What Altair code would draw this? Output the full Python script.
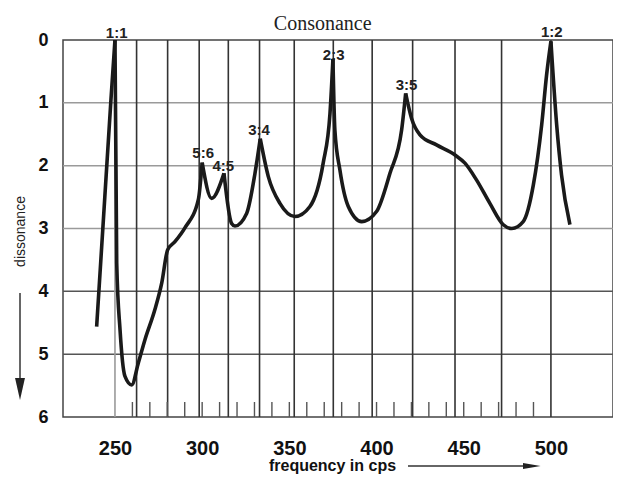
import altair as alt
import pandas as pd

# ---- data ----
freq = [239.5, 244.2, 247.7, 250.0,
        251.0, 252.9, 255.7, 259.6, 263.4, 267.2, 272.9, 276.8, 280.2, 284.4, 290.1, 297.8, 300.0,
        305.4, 312.5,
        316.9, 318.8, 325.5, 330.3, 333.3,
        337.9, 344.6, 353.2, 361.8, 369.4, 373.3, 375.0,
        376.1, 379.0, 383.8, 391.5, 400.0, 407.7, 414.4, 416.7,
        420.1, 424.9, 434.4, 445.0, 450.7, 457.4, 465.0, 472.7, 477.6, 484.1, 489.9, 494.7, 497.5, 500.0,
        503.3, 506.1, 510.9]
diss = [4.56, 2.49, 0.95, 0.0,
        3.55, 4.61, 5.35, 5.49, 5.14, 4.77, 4.29, 3.87, 3.34, 3.21, 2.99, 2.54, 1.95,
        2.52, 2.12,
        2.92, 2.96, 2.76, 2.12, 1.57,
        2.17, 2.60, 2.81, 2.65, 1.96, 1.17, 0.30,
        1.43, 2.07, 2.65, 2.89, 2.73, 2.12, 1.43, 0.85,
        1.25, 1.51, 1.67, 1.83, 1.96, 2.23, 2.60, 2.94, 3.00, 2.89, 2.31, 1.35, 0.56, 0.02,
        1.35, 2.15, 2.94]

peak_names = ["1:1", "5:6", "4:5", "3:4", "2:3", "3:5", "1:2"]
peak_label_freq = [251.0, 300.6, 312.1, 332.6, 375.4, 417.2, 500.5]
peak_label_diss = [-0.11, 1.80, 2.00, 1.43, 0.24, 0.72, -0.12]

semitone_freqs = [250.0, 262.4, 280.2, 298.3, 315.0, 332.9, 352.8, 375.2, 397.5, 420.7, 445.0, 471.7, 500.0]
small_tick_freqs = [260, 270, 280, 290, 300, 310, 320, 330, 340, 350, 360, 370, 380,
                    390, 400, 410, 420, 430, 440, 450, 460, 470, 480, 490]
x_tick_values = [250, 300, 350, 400, 450, 500]
y_tick_values = [0, 1, 2, 3, 4, 5, 6]
hgrid_values = [1, 2, 3, 4, 5]

# ---- split curve into segments at the peaks (local minima of dissonance) ----
rows = []
seg = 0
for i, (f, d) in enumerate(zip(freq, diss)):
    rows.append({"f": f, "d": d, "seg": seg})
    if 0 < i < len(freq) - 1 and d < diss[i - 1] and d < diss[i + 1]:
        seg += 1
        rows.append({"f": f, "d": d, "seg": seg})
curve_df = pd.DataFrame(rows)

W, H = 550, 377
FONT = "Liberation Sans"

xs = alt.Scale(domain=[220.2, 535.6], nice=False, zero=False)
ys = alt.Scale(domain=[0, 6], reverse=True, nice=False, zero=False)

x_axis = alt.Axis(values=x_tick_values, title="frequency in cps", ticks=False, domain=False, grid=False,
                  labelFont=FONT, labelFontSize=20, labelFontWeight="bold", labelColor="#111",
                  labelPadding=31, labelBaseline="middle", labelFlush=False, labelOverlap=False,
                  titleFont=FONT, titleFontSize=16, titleFontWeight="bold", titleColor="#111",
                  titleX=269, titleY=48, titleAlign="center", titleBaseline="middle")
y_axis = alt.Axis(values=y_tick_values, title="dissonance", ticks=False, domain=False, grid=False,
                  labelFont=FONT, labelFontSize=18, labelFontWeight="bold", labelColor="#111",
                  labelPadding=15, labelBaseline="middle", labelFlush=False, labelOverlap=False,
                  titleFont=FONT, titleFontSize=14, titleFontWeight="normal", titleColor="#222",
                  titleX=-43, titleY=191, titleAngle=-90, titleAlign="center", titleBaseline="middle")

dummy = pd.DataFrame({"a": [0]})

hgrid = alt.Chart(pd.DataFrame({"v": hgrid_values})).mark_rule(strokeWidth=1.5).encode(
    y=alt.Y("v:Q", scale=ys, axis=y_axis),
    x=alt.value(0), x2=alt.value(W),
    color=alt.condition(alt.datum.v >= 4, alt.value("#555555"), alt.value("#9a9a9a")),
)

vgrid = alt.Chart(pd.DataFrame({"f": semitone_freqs})).mark_rule(strokeWidth=1.6).encode(
    x=alt.X("f:Q", scale=xs, axis=x_axis),
    y=alt.value(0), y2=alt.value(H),
    color=alt.condition(alt.datum.f == 250, alt.value("#9a9a9a"), alt.value("#333333")),
)

small_ticks = alt.Chart(pd.DataFrame({"f": small_tick_freqs})).mark_rule(strokeWidth=1.4, color="#555555").encode(
    x=alt.X("f:Q", scale=xs, axis=x_axis),
    y=alt.value(H - 15), y2=alt.value(H),
)

curve = alt.Chart(curve_df).mark_line(interpolate="monotone", color="#1a1a1a", strokeWidth=3.6).encode(
    x=alt.X("f:Q", scale=xs, axis=x_axis),
    y=alt.Y("d:Q", scale=ys, axis=y_axis),
    detail="seg:N",
)

labels = alt.Chart(pd.DataFrame({"f": peak_label_freq, "d": peak_label_diss, "t": peak_names})).mark_text(
    font=FONT, fontSize=15, fontWeight="bold", color="#222222", baseline="middle", align="center"
).encode(
    x=alt.X("f:Q", scale=xs, axis=x_axis),
    y=alt.Y("d:Q", scale=ys, axis=y_axis),
    text="t:N",
)

y_arrow_line = alt.Chart(dummy).mark_rule(color="#333333", strokeWidth=1.5).encode(
    x=alt.value(-43), y=alt.value(253), y2=alt.value(342))
y_arrow_head = alt.Chart(dummy).mark_point(shape="M-0.45,-1L0.45,-1L0,1Z", filled=True, opacity=1,
                                          color="#222222", size=484).encode(
    x=alt.value(-43), y=alt.value(349))

x_arrow_line = alt.Chart(dummy).mark_rule(color="#333333", strokeWidth=1.5).encode(
    x=alt.value(345), x2=alt.value(464), y=alt.value(426))
x_arrow_head = alt.Chart(dummy).mark_point(shape="M-1,-0.35L1,0L-1,0.35Z", filled=True, opacity=1,
                                          color="#222222", size=310).encode(
    x=alt.value(468.8), y=alt.value(426))

title = alt.Chart(dummy).mark_text(font="Liberation Serif", fontSize=20, color="#222222",
                                   align="center", baseline="middle").encode(
    x=alt.value(259.7), y=alt.value(-16.5), text=alt.value("Consonance"))

chart = alt.layer(
    hgrid, vgrid, small_ticks, curve, labels,
    y_arrow_line, y_arrow_head, x_arrow_line, x_arrow_head, title
).properties(
    width=W, height=H,
    autosize=alt.AutoSizeParams(type="none"),
    padding={"left": 55, "top": 32, "right": 0, "bottom": 57},
    background="white",
).configure_view(stroke="#444444", strokeWidth=1.5)

chart.save("out.html", embed_options={"renderer": "svg", "actions": False})
